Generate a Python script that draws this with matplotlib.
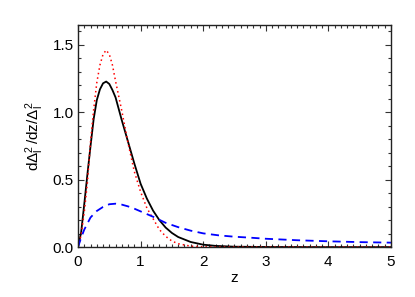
import matplotlib
matplotlib.use("Agg")
import matplotlib.pyplot as plt
from matplotlib.ticker import MultipleLocator, FormatStrFormatter

# values
z_black = [0, 0.05, 0.1, 0.15, 0.2, 0.25, 0.3, 0.35, 0.4, 0.45, 0.5, 0.55, 0.6,
           0.7, 0.8, 0.9, 1.0, 1.1, 1.2, 1.3, 1.4, 1.5, 1.6, 1.8, 2.0, 2.2,
           2.5, 3.0, 4.0, 5.0]
v_black = [0, 0.11, 0.32, 0.54, 0.75, 0.95, 1.09, 1.17, 1.215, 1.228, 1.21,
           1.165, 1.11, 0.94, 0.78, 0.62, 0.47, 0.36, 0.27, 0.20, 0.145,
           0.105, 0.075, 0.038, 0.018, 0.009, 0.003, 0.001, 0, 0]

z_red = [0, 0.05, 0.1, 0.15, 0.2, 0.25, 0.3, 0.35, 0.4, 0.45, 0.5, 0.55, 0.6,
         0.7, 0.8, 0.9, 1.0, 1.1, 1.2, 1.3, 1.4, 1.5, 1.6, 1.8, 2.0, 2.5,
         3.0, 4.0, 5.0]
v_red = [0, 0.09, 0.26, 0.48, 0.78, 1.02, 1.22, 1.35, 1.43, 1.461, 1.43,
         1.35, 1.23, 1.01, 0.77, 0.56, 0.41, 0.29, 0.21, 0.13, 0.08, 0.045,
         0.025, 0.007, 0.002, 0, 0, 0, 0]

z_blue = [0, 0.05, 0.1, 0.2, 0.3, 0.4, 0.5, 0.6, 0.7, 0.8, 0.9, 1.0, 1.2,
          1.4, 1.6, 1.8, 2.0, 2.25, 2.5, 2.75, 3.0, 3.5, 4.0, 4.5, 5.0]
v_blue = [0, 0.07, 0.13, 0.22, 0.268, 0.298, 0.318, 0.322, 0.315, 0.302,
          0.285, 0.265, 0.225, 0.18, 0.148, 0.122, 0.102, 0.087, 0.077,
          0.07, 0.062, 0.051, 0.043, 0.037, 0.033]

plt.rcParams["font.family"] = ["Liberation Sans", "DejaVu Sans"]
plt.rcParams["mathtext.fontset"] = "custom"
plt.rcParams["mathtext.rm"] = "Liberation Sans"
plt.rcParams["mathtext.it"] = "Liberation Sans"
plt.rcParams["mathtext.sf"] = "Liberation Sans"

fig = plt.figure(figsize=(4.15, 2.97), dpi=100)
ax = fig.add_axes([0.188, 0.168, 0.754, 0.749])

ax.plot(z_black, v_black, color="black", lw=1.3, solid_joinstyle="round")
ax.plot(z_red, v_red, color="red", lw=1.1, ls=(0, (1, 2)))
ax.plot(z_blue, v_blue, color="blue", lw=1.3, ls=(0, (4.5, 3)))

ax.set_xlim(0, 5)
ax.set_ylim(0, 1.65)
ax.xaxis.set_major_locator(MultipleLocator(1))
ax.xaxis.set_minor_locator(MultipleLocator(0.1))
ax.yaxis.set_major_locator(MultipleLocator(0.5))
ax.yaxis.set_minor_locator(MultipleLocator(0.1))
ax.xaxis.set_major_formatter(FormatStrFormatter("%g"))
ax.yaxis.set_major_formatter(FormatStrFormatter("%.1f"))

ax.tick_params(which="both", direction="in", top=True, right=True,
               color="#333333", width=0.8, labelsize=11)
ax.tick_params(which="major", length=4.5)
ax.tick_params(which="minor", length=2.2)
ax.tick_params(axis="x", pad=6)
ax.tick_params(axis="y", pad=3)
for sp in ax.spines.values():
    sp.set_linewidth(1.0)
    sp.set_color("#222222")

ax.set_xlabel("z", fontsize=11, labelpad=1)
ax.set_ylabel(r"d$\Delta_{\rm l}^2\,$/dz/$\Delta_{\rm l}^2$", fontsize=11,
              labelpad=5)

fig.savefig("out.png", dpi=100)
